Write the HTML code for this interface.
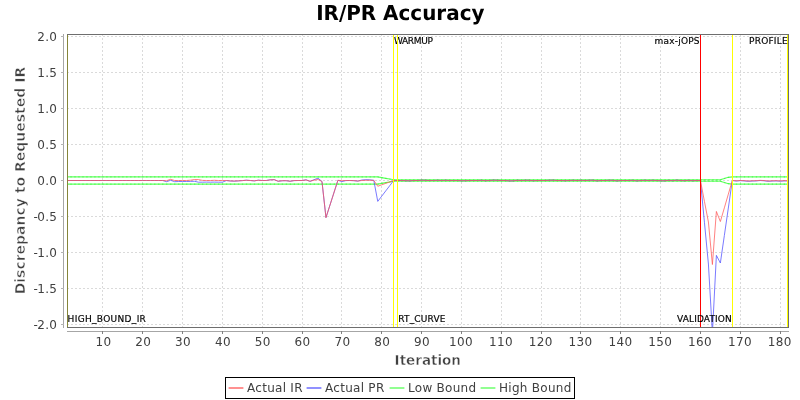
<!DOCTYPE html>
<html lang="en"><head><meta charset="utf-8"><title>IR/PR Accuracy</title>
<style>
html,body{margin:0;padding:0;background:#fff;}
body{width:800px;height:400px;overflow:hidden;}
svg{display:block;font-family:"DejaVu Sans","Liberation Sans",sans-serif;}
.tk{font-size:12px;fill:#404040;letter-spacing:0.35px;}
.mk{font-size:9px;fill:#000;letter-spacing:0.32px;stroke:#000;stroke-width:0.18px;}
.lg{font-size:12px;fill:#404040;letter-spacing:0.28px;}
.ax{font-size:13.5px;font-weight:bold;fill:#404040;stroke:#fff;stroke-width:0.45px;}
.ay{font-size:14px;stroke-width:0.55px;}
.tt{font-size:20px;font-weight:bold;fill:#000;}
</style></head><body>
<svg width="800" height="400" viewBox="0 0 800 400">
<rect x="0" y="0" width="800" height="400" fill="#ffffff"/>
<text class="tt" transform="translate(400.3,20) scale(0.997,1.029)" style="text-rendering:geometricPrecision" x="0" y="0" text-anchor="middle">IR/PR Accuracy</text>
<defs><clipPath id="pc"><rect x="67" y="34" width="722" height="293.5"/></clipPath></defs>
<g shape-rendering="crispEdges" stroke="#c0c0c0" stroke-opacity="0.58" stroke-width="1" stroke-dasharray="2 2" fill="none">
<line x1="102.5" y1="34" x2="102.5" y2="327"/>
<line x1="142.5" y1="34" x2="142.5" y2="327"/>
<line x1="182.5" y1="34" x2="182.5" y2="327"/>
<line x1="222.5" y1="34" x2="222.5" y2="327"/>
<line x1="262.5" y1="34" x2="262.5" y2="327"/>
<line x1="302.5" y1="34" x2="302.5" y2="327"/>
<line x1="341.5" y1="34" x2="341.5" y2="327"/>
<line x1="381.5" y1="34" x2="381.5" y2="327"/>
<line x1="421.5" y1="34" x2="421.5" y2="327"/>
<line x1="461.5" y1="34" x2="461.5" y2="327"/>
<line x1="501.5" y1="34" x2="501.5" y2="327"/>
<line x1="541.5" y1="34" x2="541.5" y2="327"/>
<line x1="580.5" y1="34" x2="580.5" y2="327"/>
<line x1="620.5" y1="34" x2="620.5" y2="327"/>
<line x1="660.5" y1="34" x2="660.5" y2="327"/>
<line x1="700.5" y1="34" x2="700.5" y2="327"/>
<line x1="740.5" y1="34" x2="740.5" y2="327"/>
<line x1="780.5" y1="34" x2="780.5" y2="327"/>
<line x1="67" y1="324.5" x2="789" y2="324.5"/>
<line x1="67" y1="288.5" x2="789" y2="288.5"/>
<line x1="67" y1="252.5" x2="789" y2="252.5"/>
<line x1="67" y1="216.5" x2="789" y2="216.5"/>
<line x1="67" y1="180.5" x2="789" y2="180.5"/>
<line x1="67" y1="144.5" x2="789" y2="144.5"/>
<line x1="67" y1="108.5" x2="789" y2="108.5"/>
<line x1="67" y1="72.5" x2="789" y2="72.5"/>
<line x1="67" y1="36.5" x2="789" y2="36.5"/>
</g>
<g clip-path="url(#pc)">
<polyline points="67.02,176.90 71.00,176.90 74.99,176.90 78.97,176.90 82.96,176.90 86.94,176.90 90.92,176.90 94.91,176.90 98.89,176.90 102.87,176.90 106.86,176.90 110.84,176.90 114.83,176.90 118.81,176.90 122.79,176.90 126.78,176.90 130.76,176.90 134.74,176.90 138.73,176.90 142.71,176.90 146.70,176.90 150.68,176.90 154.66,176.90 158.65,176.90 162.63,176.90 166.62,176.90 170.60,176.90 174.58,176.90 178.57,176.90 182.55,176.90 186.53,176.90 190.52,176.90 194.50,176.90 198.49,176.90 202.47,176.90 206.45,176.90 210.44,176.90 214.42,176.90 218.40,176.90 222.39,176.90 226.37,176.90 230.36,176.90 234.34,176.90 238.32,176.90 242.31,176.90 246.29,176.90 250.27,176.90 254.26,176.90 258.24,176.90 262.23,176.90 266.21,176.90 270.19,176.90 274.18,176.90 278.16,176.90 282.15,176.90 286.13,176.90 290.11,176.90 294.10,176.90 298.08,176.90 302.06,176.90 306.05,176.90 310.03,176.90 314.02,176.90 318.00,176.90 321.98,176.90 325.97,176.90 337.92,176.90 341.90,176.90 345.89,176.90 349.87,176.90 353.85,176.90 357.84,176.90 361.82,176.90 365.81,176.90 369.79,176.90 373.77,176.90 377.76,176.90 381.74,177.62 385.72,178.34 389.71,179.06 393.69,179.78 397.68,179.78 401.66,179.78 405.64,179.78 409.63,179.78 413.61,179.78 417.59,179.78 421.58,179.78 425.56,179.78 429.55,179.78 433.53,179.78 437.51,179.78 441.50,179.78 445.48,179.78 449.46,179.78 453.45,179.78 457.43,179.78 461.42,179.78 465.40,179.78 469.38,179.78 473.37,179.78 477.35,179.78 481.34,179.78 485.32,179.78 489.30,179.78 493.29,179.78 497.27,179.78 501.25,179.78 505.24,179.78 509.22,179.78 513.21,179.78 517.19,179.78 521.17,179.78 525.16,179.78 529.14,179.78 533.12,179.78 537.11,179.78 541.09,179.78 545.08,179.78 549.06,179.78 553.04,179.78 557.03,179.78 561.01,179.78 565.00,179.78 568.98,179.78 572.96,179.78 576.95,179.78 580.93,179.78 584.91,179.78 588.90,179.78 592.88,179.78 596.87,179.78 600.85,179.78 604.83,179.78 608.82,179.78 612.80,179.78 616.78,179.78 620.77,179.78 624.75,179.78 628.74,179.78 632.72,179.78 636.70,179.78 640.69,179.78 644.67,179.78 648.65,179.78 652.64,179.78 656.62,179.78 660.61,179.78 664.59,179.78 668.57,179.78 672.56,179.78 676.54,179.78 680.53,179.78 684.51,179.78 688.49,179.78 692.48,179.78 696.46,179.78 700.44,179.78 704.43,179.78 708.41,179.78 712.40,179.78 716.38,179.78 720.36,179.78 724.35,178.48 728.33,177.33 732.31,176.90 736.30,176.90 740.28,176.90 744.27,176.90 748.25,176.90 752.23,176.90 756.22,176.90 760.20,176.90 764.18,176.90 768.17,176.90 772.15,176.90 776.14,176.90 780.12,176.90 784.10,176.90 788.09,176.90" fill="none" stroke="#55ff55" stroke-width="1.1" stroke-opacity="0.95" stroke-linejoin="miter" stroke-linecap="square"/>
<polyline points="67.02,184.10 71.00,184.10 74.99,184.10 78.97,184.10 82.96,184.10 86.94,184.10 90.92,184.10 94.91,184.10 98.89,184.10 102.87,184.10 106.86,184.10 110.84,184.10 114.83,184.10 118.81,184.10 122.79,184.10 126.78,184.10 130.76,184.10 134.74,184.10 138.73,184.10 142.71,184.10 146.70,184.10 150.68,184.10 154.66,184.10 158.65,184.10 162.63,184.10 166.62,184.10 170.60,184.10 174.58,184.10 178.57,184.10 182.55,184.10 186.53,184.10 190.52,184.10 194.50,184.10 198.49,184.10 202.47,184.10 206.45,184.10 210.44,184.10 214.42,184.10 218.40,184.10 222.39,184.10 226.37,184.10 230.36,184.10 234.34,184.10 238.32,184.10 242.31,184.10 246.29,184.10 250.27,184.10 254.26,184.10 258.24,184.10 262.23,184.10 266.21,184.10 270.19,184.10 274.18,184.10 278.16,184.10 282.15,184.10 286.13,184.10 290.11,184.10 294.10,184.10 298.08,184.10 302.06,184.10 306.05,184.10 310.03,184.10 314.02,184.10 318.00,184.10 321.98,184.10 325.97,184.10 337.92,184.10 341.90,184.10 345.89,184.10 349.87,184.10 353.85,184.10 357.84,184.10 361.82,184.10 365.81,184.10 369.79,184.10 373.77,184.10 377.76,184.10 381.74,183.38 385.72,182.66 389.71,181.94 393.69,181.22 397.68,181.22 401.66,181.22 405.64,181.22 409.63,181.22 413.61,181.22 417.59,181.22 421.58,181.22 425.56,181.22 429.55,181.22 433.53,181.22 437.51,181.22 441.50,181.22 445.48,181.22 449.46,181.22 453.45,181.22 457.43,181.22 461.42,181.22 465.40,181.22 469.38,181.22 473.37,181.22 477.35,181.22 481.34,181.22 485.32,181.22 489.30,181.22 493.29,181.22 497.27,181.22 501.25,181.22 505.24,181.22 509.22,181.22 513.21,181.22 517.19,181.22 521.17,181.22 525.16,181.22 529.14,181.22 533.12,181.22 537.11,181.22 541.09,181.22 545.08,181.22 549.06,181.22 553.04,181.22 557.03,181.22 561.01,181.22 565.00,181.22 568.98,181.22 572.96,181.22 576.95,181.22 580.93,181.22 584.91,181.22 588.90,181.22 592.88,181.22 596.87,181.22 600.85,181.22 604.83,181.22 608.82,181.22 612.80,181.22 616.78,181.22 620.77,181.22 624.75,181.22 628.74,181.22 632.72,181.22 636.70,181.22 640.69,181.22 644.67,181.22 648.65,181.22 652.64,181.22 656.62,181.22 660.61,181.22 664.59,181.22 668.57,181.22 672.56,181.22 676.54,181.22 680.53,181.22 684.51,181.22 688.49,181.22 692.48,181.22 696.46,181.22 700.44,181.22 704.43,181.22 708.41,181.22 712.40,181.22 716.38,181.22 720.36,181.22 724.35,182.52 728.33,183.67 732.31,184.10 736.30,184.10 740.28,184.10 744.27,184.10 748.25,184.10 752.23,184.10 756.22,184.10 760.20,184.10 764.18,184.10 768.17,184.10 772.15,184.10 776.14,184.10 780.12,184.10 784.10,184.10 788.09,184.10" fill="none" stroke="#55ff55" stroke-width="1.1" stroke-opacity="0.95" stroke-linejoin="miter" stroke-linecap="square"/>
<polyline points="67.02,176.90 71.00,176.90 74.99,176.90 78.97,176.90 82.96,176.90 86.94,176.90 90.92,176.90 94.91,176.90 98.89,176.90 102.87,176.90 106.86,176.90 110.84,176.90 114.83,176.90 118.81,176.90 122.79,176.90 126.78,176.90 130.76,176.90 134.74,176.90 138.73,176.90 142.71,176.90 146.70,176.90 150.68,176.90 154.66,176.90 158.65,176.90 162.63,176.90 166.62,176.90 170.60,176.90 174.58,176.90 178.57,176.90 182.55,176.90 186.53,176.90 190.52,176.90 194.50,176.90 198.49,176.90 202.47,176.90 206.45,176.90 210.44,176.90 214.42,176.90 218.40,176.90 222.39,176.90 226.37,176.90 230.36,176.90 234.34,176.90 238.32,176.90 242.31,176.90 246.29,176.90 250.27,176.90 254.26,176.90 258.24,176.90 262.23,176.90 266.21,176.90 270.19,176.90 274.18,176.90 278.16,176.90 282.15,176.90 286.13,176.90 290.11,176.90 294.10,176.90 298.08,176.90 302.06,176.90 306.05,176.90 310.03,176.90 314.02,176.90 318.00,176.90 321.98,176.90 325.97,176.90 337.92,176.90 341.90,176.90 345.89,176.90 349.87,176.90 353.85,176.90 357.84,176.90 361.82,176.90 365.81,176.90 369.79,176.90 373.77,176.90 377.76,176.90 381.74,177.62 385.72,178.34 389.71,179.06 393.69,179.78 397.68,179.78 401.66,179.78 405.64,179.78 409.63,179.78 413.61,179.78 417.59,179.78 421.58,179.78 425.56,179.78 429.55,179.78 433.53,179.78 437.51,179.78 441.50,179.78 445.48,179.78 449.46,179.78 453.45,179.78 457.43,179.78 461.42,179.78 465.40,179.78 469.38,179.78 473.37,179.78 477.35,179.78 481.34,179.78 485.32,179.78 489.30,179.78 493.29,179.78 497.27,179.78 501.25,179.78 505.24,179.78 509.22,179.78 513.21,179.78 517.19,179.78 521.17,179.78 525.16,179.78 529.14,179.78 533.12,179.78 537.11,179.78 541.09,179.78 545.08,179.78 549.06,179.78 553.04,179.78 557.03,179.78 561.01,179.78 565.00,179.78 568.98,179.78 572.96,179.78 576.95,179.78 580.93,179.78 584.91,179.78 588.90,179.78 592.88,179.78 596.87,179.78 600.85,179.78 604.83,179.78 608.82,179.78 612.80,179.78 616.78,179.78 620.77,179.78 624.75,179.78 628.74,179.78 632.72,179.78 636.70,179.78 640.69,179.78 644.67,179.78 648.65,179.78 652.64,179.78 656.62,179.78 660.61,179.78 664.59,179.78 668.57,179.78 672.56,179.78 676.54,179.78 680.53,179.78 684.51,179.78 688.49,179.78 692.48,179.78 696.46,179.78 700.44,179.78 704.43,179.78 708.41,179.78 712.40,179.78 716.38,179.78 720.36,179.78 724.35,178.48 728.33,177.33 732.31,176.90 736.30,176.90 740.28,176.90 744.27,176.90 748.25,176.90 752.23,176.90 756.22,176.90 760.20,176.90 764.18,176.90 768.17,176.90 772.15,176.90 776.14,176.90 780.12,176.90 784.10,176.90 788.09,176.90" fill="none" stroke="#22ff22" stroke-width="1.2" stroke-opacity="0.55" stroke-linejoin="miter" stroke-linecap="butt" stroke-dasharray="1.3 2.689" stroke-dashoffset="0.65"/>
<polyline points="67.02,184.10 71.00,184.10 74.99,184.10 78.97,184.10 82.96,184.10 86.94,184.10 90.92,184.10 94.91,184.10 98.89,184.10 102.87,184.10 106.86,184.10 110.84,184.10 114.83,184.10 118.81,184.10 122.79,184.10 126.78,184.10 130.76,184.10 134.74,184.10 138.73,184.10 142.71,184.10 146.70,184.10 150.68,184.10 154.66,184.10 158.65,184.10 162.63,184.10 166.62,184.10 170.60,184.10 174.58,184.10 178.57,184.10 182.55,184.10 186.53,184.10 190.52,184.10 194.50,184.10 198.49,184.10 202.47,184.10 206.45,184.10 210.44,184.10 214.42,184.10 218.40,184.10 222.39,184.10 226.37,184.10 230.36,184.10 234.34,184.10 238.32,184.10 242.31,184.10 246.29,184.10 250.27,184.10 254.26,184.10 258.24,184.10 262.23,184.10 266.21,184.10 270.19,184.10 274.18,184.10 278.16,184.10 282.15,184.10 286.13,184.10 290.11,184.10 294.10,184.10 298.08,184.10 302.06,184.10 306.05,184.10 310.03,184.10 314.02,184.10 318.00,184.10 321.98,184.10 325.97,184.10 337.92,184.10 341.90,184.10 345.89,184.10 349.87,184.10 353.85,184.10 357.84,184.10 361.82,184.10 365.81,184.10 369.79,184.10 373.77,184.10 377.76,184.10 381.74,183.38 385.72,182.66 389.71,181.94 393.69,181.22 397.68,181.22 401.66,181.22 405.64,181.22 409.63,181.22 413.61,181.22 417.59,181.22 421.58,181.22 425.56,181.22 429.55,181.22 433.53,181.22 437.51,181.22 441.50,181.22 445.48,181.22 449.46,181.22 453.45,181.22 457.43,181.22 461.42,181.22 465.40,181.22 469.38,181.22 473.37,181.22 477.35,181.22 481.34,181.22 485.32,181.22 489.30,181.22 493.29,181.22 497.27,181.22 501.25,181.22 505.24,181.22 509.22,181.22 513.21,181.22 517.19,181.22 521.17,181.22 525.16,181.22 529.14,181.22 533.12,181.22 537.11,181.22 541.09,181.22 545.08,181.22 549.06,181.22 553.04,181.22 557.03,181.22 561.01,181.22 565.00,181.22 568.98,181.22 572.96,181.22 576.95,181.22 580.93,181.22 584.91,181.22 588.90,181.22 592.88,181.22 596.87,181.22 600.85,181.22 604.83,181.22 608.82,181.22 612.80,181.22 616.78,181.22 620.77,181.22 624.75,181.22 628.74,181.22 632.72,181.22 636.70,181.22 640.69,181.22 644.67,181.22 648.65,181.22 652.64,181.22 656.62,181.22 660.61,181.22 664.59,181.22 668.57,181.22 672.56,181.22 676.54,181.22 680.53,181.22 684.51,181.22 688.49,181.22 692.48,181.22 696.46,181.22 700.44,181.22 704.43,181.22 708.41,181.22 712.40,181.22 716.38,181.22 720.36,181.22 724.35,182.52 728.33,183.67 732.31,184.10 736.30,184.10 740.28,184.10 744.27,184.10 748.25,184.10 752.23,184.10 756.22,184.10 760.20,184.10 764.18,184.10 768.17,184.10 772.15,184.10 776.14,184.10 780.12,184.10 784.10,184.10 788.09,184.10" fill="none" stroke="#22ff22" stroke-width="1.2" stroke-opacity="0.55" stroke-linejoin="miter" stroke-linecap="butt" stroke-dasharray="1.3 2.689" stroke-dashoffset="0.65"/>
<polyline points="67.02,180.50 71.00,180.50 74.99,180.50 78.97,180.50 82.96,180.50 86.94,180.50 90.92,180.50 94.91,180.50 98.89,180.50 102.87,180.50 106.86,180.50 110.84,180.50 114.83,180.50 118.81,180.50 122.79,180.50 126.78,180.50 130.76,180.50 134.74,180.50 138.73,180.50 142.71,180.50 146.70,180.50 150.68,180.50 154.66,180.50 158.65,180.50 162.63,180.50 166.62,181.70 170.60,180.30 174.58,181.70 178.57,181.50 182.55,181.50 186.53,181.50 190.52,181.40 194.50,181.30 198.49,182.20 202.47,182.20 206.45,182.10 210.44,182.20 214.42,182.10 218.40,182.20 222.39,182.20 226.37,180.60 230.36,181.00 234.34,181.20 238.32,180.90 242.31,180.60 246.29,180.20 250.27,180.50 254.26,180.90 258.24,180.20 262.23,180.50 266.21,180.50 270.19,179.80 274.18,179.60 278.16,181.30 282.15,180.80 286.13,180.70 290.11,181.30 294.10,180.60 298.08,180.50 302.06,180.50 306.05,179.80 310.03,181.40 314.02,179.70 318.00,178.20 321.98,181.50 325.97,217.58 337.92,180.30 341.90,181.60 345.89,180.60 349.87,180.50 353.85,180.70 357.84,181.10 361.82,180.00 365.81,179.70 369.79,179.80 373.77,180.30 377.76,201.38 381.74,196.16 385.72,190.94 389.71,185.72 393.69,180.50 397.68,180.50 401.66,180.50 405.64,180.68 409.63,180.80 413.61,180.50 417.59,180.50 421.58,180.20 425.56,180.32 429.55,180.50 433.53,180.50 437.51,180.32 441.50,180.50 445.48,180.32 449.46,180.50 453.45,180.50 457.43,180.50 461.42,180.68 465.40,180.68 469.38,180.50 473.37,180.50 477.35,180.50 481.34,180.32 485.32,180.68 489.30,180.50 493.29,180.20 497.27,180.32 501.25,180.50 505.24,180.50 509.22,180.80 513.21,180.80 517.19,180.32 521.17,180.50 525.16,180.32 529.14,180.32 533.12,180.68 537.11,180.50 541.09,180.50 545.08,180.50 549.06,180.32 553.04,180.20 557.03,180.50 561.01,180.50 565.00,180.68 568.98,180.50 572.96,180.32 576.95,180.50 580.93,180.32 584.91,180.50 588.90,180.32 592.88,180.20 596.87,180.80 600.85,180.50 604.83,180.50 608.82,180.32 612.80,180.32 616.78,180.80 620.77,180.50 624.75,180.50 628.74,180.50 632.72,180.32 636.70,180.80 640.69,180.50 644.67,180.32 648.65,180.50 652.64,180.32 656.62,180.50 660.61,180.68 664.59,180.80 668.57,180.32 672.56,180.68 676.54,180.20 680.53,180.50 684.51,180.68 688.49,180.32 692.48,180.68 696.46,180.50 700.44,180.50 704.43,222.26 708.41,264.02 712.40,333.14 716.38,255.38 720.36,263.01 724.35,235.51 728.33,208.00 732.31,180.50 736.30,181.08 740.28,180.69 744.27,180.95 748.25,181.34 752.23,181.08 756.22,180.95 760.20,180.56 764.18,180.82 768.17,181.34 772.15,181.08 776.14,180.95 780.12,181.21 784.10,180.95 788.09,180.95" fill="none" stroke="#5555ff" stroke-width="1.0" stroke-opacity="0.78" stroke-linejoin="miter" stroke-linecap="square"/>
<polyline points="67.02,180.50 71.00,180.50 74.99,180.50 78.97,180.50 82.96,180.50 86.94,180.50 90.92,180.50 94.91,180.50 98.89,180.50 102.87,180.50 106.86,180.50 110.84,180.50 114.83,180.50 118.81,180.50 122.79,180.50 126.78,180.50 130.76,180.50 134.74,180.50 138.73,180.50 142.71,180.50 146.70,180.50 150.68,180.50 154.66,180.50 158.65,180.50 162.63,180.50 166.62,180.70 170.60,179.30 174.58,180.50 178.57,180.50 182.55,180.50 186.53,180.50 190.52,180.20 194.50,179.50 198.49,179.60 202.47,180.40 206.45,180.50 210.44,180.50 214.42,180.30 218.40,180.50 222.39,180.50 226.37,180.50 230.36,180.90 234.34,181.00 238.32,180.80 242.31,180.60 246.29,180.30 250.27,180.50 254.26,180.80 258.24,180.30 262.23,180.50 266.21,180.50 270.19,179.90 274.18,179.70 278.16,181.20 282.15,180.70 286.13,180.70 290.11,181.20 294.10,180.60 298.08,180.50 302.06,180.50 306.05,180.00 310.03,181.20 314.02,180.20 318.00,179.50 321.98,181.50 325.97,217.58 337.92,180.30 341.90,180.70 345.89,180.50 349.87,180.50 353.85,180.60 357.84,181.00 361.82,180.50 365.81,180.30 369.79,180.30 373.77,180.40 377.76,186.26 381.74,184.82 385.72,183.38 389.71,181.94 393.69,180.50 397.68,180.50 401.66,180.50 405.64,180.65 409.63,180.75 413.61,180.50 417.59,180.50 421.58,180.25 425.56,180.35 429.55,180.50 433.53,180.50 437.51,180.35 441.50,180.50 445.48,180.35 449.46,180.50 453.45,180.50 457.43,180.50 461.42,180.65 465.40,180.65 469.38,180.50 473.37,180.50 477.35,180.50 481.34,180.35 485.32,180.65 489.30,180.50 493.29,180.25 497.27,180.35 501.25,180.50 505.24,180.50 509.22,180.75 513.21,180.75 517.19,180.35 521.17,180.50 525.16,180.35 529.14,180.35 533.12,180.65 537.11,180.50 541.09,180.50 545.08,180.50 549.06,180.35 553.04,180.25 557.03,180.50 561.01,180.50 565.00,180.65 568.98,180.50 572.96,180.35 576.95,180.50 580.93,180.35 584.91,180.50 588.90,180.35 592.88,180.25 596.87,180.75 600.85,180.50 604.83,180.50 608.82,180.35 612.80,180.35 616.78,180.75 620.77,180.50 624.75,180.50 628.74,180.50 632.72,180.35 636.70,180.75 640.69,180.50 644.67,180.35 648.65,180.50 652.64,180.35 656.62,180.50 660.61,180.65 664.59,180.75 668.57,180.35 672.56,180.65 676.54,180.25 680.53,180.50 684.51,180.65 688.49,180.35 692.48,180.65 696.46,180.50 700.44,180.50 704.43,201.38 708.41,221.97 712.40,264.52 716.38,211.46 720.36,221.54 724.35,207.86 728.33,194.18 732.31,180.50 736.30,180.75 740.28,180.45 744.27,180.65 748.25,180.95 752.23,180.75 756.22,180.65 760.20,180.35 764.18,180.55 768.17,180.95 772.15,180.75 776.14,180.65 780.12,180.85 784.10,180.65 788.09,180.65" fill="none" stroke="#ff5555" stroke-width="1.0" stroke-opacity="0.74" stroke-linejoin="miter" stroke-linecap="square"/>
</g>
<line x1="67.5" y1="34" x2="67.5" y2="327" stroke="#ffff00" stroke-width="1" shape-rendering="crispEdges"/>
<text class="mk" x="67.6" y="321.9" style="letter-spacing:0.32px">HIGH_BOUND_IR</text>
<line x1="393.5" y1="34" x2="393.5" y2="327" stroke="#ffff00" stroke-width="1" shape-rendering="crispEdges"/>
<text class="mk" x="393.9" y="44.3" style="letter-spacing:-0.3px">WARMUP</text>
<line x1="397.5" y1="34" x2="397.5" y2="327" stroke="#ffff00" stroke-width="1" shape-rendering="crispEdges"/>
<text class="mk" x="398.2" y="321.9" style="letter-spacing:0.18px">RT_CURVE</text>
<line x1="700.5" y1="34" x2="700.5" y2="327" stroke="#ff0000" stroke-width="1" shape-rendering="crispEdges"/>
<text class="mk" x="699.8" y="44.3" text-anchor="end" style="letter-spacing:0.22px">max-jOPS</text>
<line x1="732.5" y1="34" x2="732.5" y2="327" stroke="#ffff00" stroke-width="1" shape-rendering="crispEdges"/>
<text class="mk" x="731.9" y="321.9" text-anchor="end" style="letter-spacing:0.13px">VALIDATION</text>
<line x1="787.5" y1="34" x2="787.5" y2="327" stroke="#ffff00" stroke-width="1" shape-rendering="crispEdges"/>
<text class="mk" x="787.8" y="44.3" text-anchor="end" style="letter-spacing:0.2px">PROFILE</text>
<g shape-rendering="crispEdges" fill="none">
<rect x="67.5" y="34.5" width="721" height="293" stroke="#6e6e6e" stroke-width="1"/>
<line x1="67.5" y1="35" x2="67.5" y2="327" stroke="#85853a" stroke-width="1"/>
<line x1="63.5" y1="34" x2="63.5" y2="328" stroke="#a6a6a6"/>
<line x1="67" y1="331.5" x2="789" y2="331.5" stroke="#a6a6a6"/>
<line x1="102.5" y1="331" x2="102.5" y2="334" stroke="#808080"/>
<line x1="142.5" y1="331" x2="142.5" y2="334" stroke="#808080"/>
<line x1="182.5" y1="331" x2="182.5" y2="334" stroke="#808080"/>
<line x1="222.5" y1="331" x2="222.5" y2="334" stroke="#808080"/>
<line x1="262.5" y1="331" x2="262.5" y2="334" stroke="#808080"/>
<line x1="302.5" y1="331" x2="302.5" y2="334" stroke="#808080"/>
<line x1="341.5" y1="331" x2="341.5" y2="334" stroke="#808080"/>
<line x1="381.5" y1="331" x2="381.5" y2="334" stroke="#808080"/>
<line x1="421.5" y1="331" x2="421.5" y2="334" stroke="#808080"/>
<line x1="461.5" y1="331" x2="461.5" y2="334" stroke="#808080"/>
<line x1="501.5" y1="331" x2="501.5" y2="334" stroke="#808080"/>
<line x1="541.5" y1="331" x2="541.5" y2="334" stroke="#808080"/>
<line x1="580.5" y1="331" x2="580.5" y2="334" stroke="#808080"/>
<line x1="620.5" y1="331" x2="620.5" y2="334" stroke="#808080"/>
<line x1="660.5" y1="331" x2="660.5" y2="334" stroke="#808080"/>
<line x1="700.5" y1="331" x2="700.5" y2="334" stroke="#808080"/>
<line x1="740.5" y1="331" x2="740.5" y2="334" stroke="#808080"/>
<line x1="780.5" y1="331" x2="780.5" y2="334" stroke="#808080"/>
<line x1="61" y1="324.5" x2="64" y2="324.5" stroke="#b4b4b4"/>
<line x1="61" y1="288.5" x2="64" y2="288.5" stroke="#b4b4b4"/>
<line x1="61" y1="252.5" x2="64" y2="252.5" stroke="#b4b4b4"/>
<line x1="61" y1="216.5" x2="64" y2="216.5" stroke="#b4b4b4"/>
<line x1="61" y1="180.5" x2="64" y2="180.5" stroke="#b4b4b4"/>
<line x1="61" y1="144.5" x2="64" y2="144.5" stroke="#b4b4b4"/>
<line x1="61" y1="108.5" x2="64" y2="108.5" stroke="#b4b4b4"/>
<line x1="61" y1="72.5" x2="64" y2="72.5" stroke="#b4b4b4"/>
<line x1="61" y1="36.5" x2="64" y2="36.5" stroke="#b4b4b4"/>
</g>
<text class="tk" x="103.4" y="345.6" text-anchor="middle">10</text>
<text class="tk" x="143.2" y="345.6" text-anchor="middle">20</text>
<text class="tk" x="183.1" y="345.6" text-anchor="middle">30</text>
<text class="tk" x="222.9" y="345.6" text-anchor="middle">40</text>
<text class="tk" x="262.7" y="345.6" text-anchor="middle">50</text>
<text class="tk" x="302.6" y="345.6" text-anchor="middle">60</text>
<text class="tk" x="342.4" y="345.6" text-anchor="middle">70</text>
<text class="tk" x="382.2" y="345.6" text-anchor="middle">80</text>
<text class="tk" x="422.1" y="345.6" text-anchor="middle">90</text>
<text class="tk" x="461.0" y="345.6" text-anchor="middle">100</text>
<text class="tk" x="500.9" y="345.6" text-anchor="middle">110</text>
<text class="tk" x="540.7" y="345.6" text-anchor="middle">120</text>
<text class="tk" x="580.5" y="345.6" text-anchor="middle">130</text>
<text class="tk" x="620.4" y="345.6" text-anchor="middle">140</text>
<text class="tk" x="660.2" y="345.6" text-anchor="middle">150</text>
<text class="tk" x="700.0" y="345.6" text-anchor="middle">160</text>
<text class="tk" x="739.9" y="345.6" text-anchor="middle">170</text>
<text class="tk" x="779.7" y="345.6" text-anchor="middle">180</text>
<text class="tk" x="57.3" y="329.0" text-anchor="end"><tspan style="letter-spacing:-0.75px">-</tspan>2.0</text>
<text class="tk" x="57.3" y="293.0" text-anchor="end"><tspan style="letter-spacing:-0.75px">-</tspan>1.5</text>
<text class="tk" x="57.3" y="257.0" text-anchor="end"><tspan style="letter-spacing:-0.75px">-</tspan>1.0</text>
<text class="tk" x="57.3" y="221.0" text-anchor="end"><tspan style="letter-spacing:-0.75px">-</tspan>0.5</text>
<text class="tk" x="57.3" y="185.0" text-anchor="end">0.0</text>
<text class="tk" x="57.3" y="149.0" text-anchor="end">0.5</text>
<text class="tk" x="57.3" y="113.0" text-anchor="end">1.0</text>
<text class="tk" x="57.3" y="77.0" text-anchor="end">1.5</text>
<text class="tk" x="57.3" y="41.0" text-anchor="end">2.0</text>
<text class="ax" x="427.8" y="364.6" text-anchor="middle">Iteration</text>
<text class="ax ay" transform="translate(24.9,180.6) rotate(-90)" text-anchor="middle">Discrepancy to Requested IR</text>
<rect x="225.5" y="377.5" width="349" height="21" fill="#ffffff" stroke="#000000" stroke-width="1" shape-rendering="crispEdges"/>
<line x1="228.6" y1="388" x2="243.4" y2="388" stroke="#ff5555" stroke-width="1.3" stroke-opacity="1"/>
<text class="lg" x="247.0" y="391.6">Actual IR</text>
<line x1="306.6" y1="388" x2="321.4" y2="388" stroke="#5555ff" stroke-width="1.3" stroke-opacity="1"/>
<text class="lg" x="325.0" y="391.6">Actual PR</text>
<line x1="389.6" y1="388" x2="404.4" y2="388" stroke="#55ff55" stroke-width="1.3" stroke-opacity="1"/>
<text class="lg" x="408.0" y="391.6">Low Bound</text>
<line x1="480.6" y1="388" x2="495.4" y2="388" stroke="#55ff55" stroke-width="1.3" stroke-opacity="1"/>
<text class="lg" x="499.0" y="391.6">High Bound</text>
</svg>
</body></html>
